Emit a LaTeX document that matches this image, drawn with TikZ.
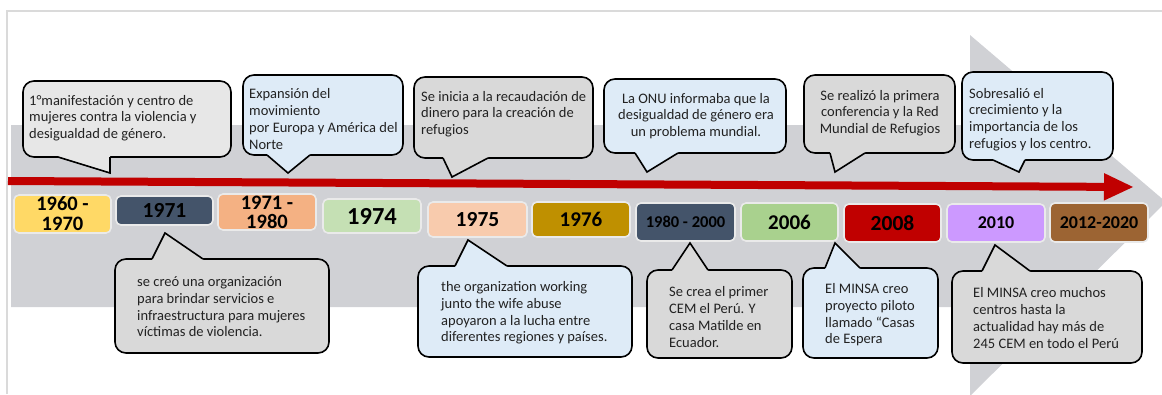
\documentclass[tikz,border=0pt]{standalone}
\usepackage{fontspec}
\setmainfont{Carlito}
\usetikzlibrary{arrows.meta}
\definecolor{bandgray}{HTML}{D0D1D5}
\definecolor{framegray}{HTML}{DADADA}
\definecolor{redline}{HTML}{C00000}
\definecolor{callgray}{HTML}{D9D9D9}
\definecolor{calllight}{HTML}{E7E7E7}
\definecolor{callblue}{HTML}{DEEBF7}
\definecolor{calltext}{HTML}{222222}
\definecolor{yyellow}{HTML}{FFD966}
\definecolor{yslate}{HTML}{44546A}
\definecolor{yorange}{HTML}{F4B183}
\definecolor{ygreenl}{HTML}{C5E0B4}
\definecolor{ypeach}{HTML}{F8CBAD}
\definecolor{ygold}{HTML}{BF9000}
\definecolor{ygreen}{HTML}{A9D18E}
\definecolor{yred}{HTML}{C00000}
\definecolor{ylilac}{HTML}{CC99FF}
\definecolor{ybrown}{HTML}{9C6433}
\definecolor{yborder}{HTML}{EAEAEA}
\newcommand{\calltail}[6]{%
  \fill[#1] (#2,#5) -- (#2,#4) -- #6 -- (#3,#4) -- (#3,#5) -- cycle;
  \draw[tailline] (#2,#4) -- #6 -- (#3,#4);}
\begin{document}
\begin{tikzpicture}[x=1pt,y=-1pt,
  yearbox/.style={rounded corners=5pt, draw=yborder, line width=1.6pt, inner sep=0pt,
    align=center, text=black},
  callout/.style={draw=black, line width=1.6pt, rounded corners=11pt, inner sep=0pt},
  tailline/.style={draw=black, line width=1.6pt, line join=miter},
  ctext/.style={font=\fontsize{14.5}{16.7}\selectfont, text=calltext, inner sep=0pt, align=left, anchor=west},
  ctextc/.style={font=\fontsize{14.5}{16.7}\selectfont, text=calltext, inner sep=0pt, align=center},
  bigarrow/.style={draw=redline, line width=8pt, -{Triangle[length=30pt,width=25pt]}}
]
\useasboundingbox (0,0) rectangle (1162,394);
\clip (0,0) rectangle (1162,394);
% frame
\draw[framegray, line width=2pt] (7,394) -- (7,11) -- (1162,11);
% gray band arrow
\fill[bandgray] (11,125) -- (970,125) -- (970,35) -- (1166,202) -- (970,396) -- (970,307) -- (11,307) -- cycle;
% red arrow
\coordinate (rs) at (8,181);
\coordinate (re) at (1134,187);
\draw[bigarrow] (rs) -- (re);

% year boxes
\node[yearbox, fill=yyellow, minimum width=97pt, minimum height=38pt, font=\bfseries\fontsize{20.5}{20}\selectfont] (y1) at (62.5,214) {1960 -\\1970};
\node[yearbox, fill=yslate, minimum width=97pt, minimum height=29pt, font=\bfseries\fontsize{21.5}{20}\selectfont] (y2) at (164.5,210.5) {1971};
\node[yearbox, fill=yorange, minimum width=98pt, minimum height=36pt, font=\bfseries\fontsize{20.5}{19}\selectfont] (y3) at (267,212) {1971 -\\1980};
\node[yearbox, fill=ygreenl, minimum width=98pt, minimum height=34pt, font=\bfseries\fontsize{24.5}{22}\selectfont] (y4) at (372,216) {1974};
\node[yearbox, fill=ypeach, minimum width=99pt, minimum height=35pt, font=\bfseries\fontsize{21.5}{20}\selectfont] (y5) at (477.5,219.5) {1975};
\node[yearbox, fill=ygold, minimum width=98pt, minimum height=35pt, font=\bfseries\fontsize{21}{20}\selectfont] (y6) at (581,219.5) {1976};
\node[yearbox, fill=yslate, minimum width=99pt, minimum height=38pt, font=\bfseries\fontsize{16.5}{16}\selectfont] (y7) at (685.5,222) {1980 - 2000};
\node[yearbox, fill=ygreen, minimum width=97pt, minimum height=38pt, font=\bfseries\fontsize{21}{20}\selectfont] (y8) at (789.5,222) {2006};
\node[yearbox, fill=yred, minimum width=97pt, minimum height=38pt, font=\bfseries\fontsize{21.5}{20}\selectfont] (y9) at (892.5,223) {2008};
\node[yearbox, fill=ylilac, minimum width=98pt, minimum height=38pt, font=\bfseries\fontsize{18}{18}\selectfont] (y10) at (996,223) {2010};
\node[yearbox, fill=ybrown, minimum width=98pt, minimum height=39pt, font=\bfseries\fontsize{18}{18}\selectfont] (y11) at (1099,222.5) {2012-2020};

% top callouts
\node[callout, fill=calllight, minimum width=208pt, minimum height=76pt] (c1) at (127,119) {};
\calltail{calllight}{58}{110}{157}{154}{(110,173)}
\node[ctext] (t1) at (29,118) {1°manifestación y centro de\\mujeres contra la violencia y\\desigualdad de género.};

\node[callout, fill=callblue, minimum width=160pt, minimum height=80pt] (c2) at (323,115) {};
\calltail{callblue}{267}{310}{155}{152}{(288,173)}
\node[ctext] (t2) at (249,119) {Expansión del\\movimiento\\por Europa y América del\\Norte};

\node[callout, fill=callgray, minimum width=179pt, minimum height=81pt] (c3) at (503.5,117.5) {};
\calltail{callgray}{443}{488}{158}{155}{(452,177)}
\node[ctext] (t3) at (421,114) {Se inicia a la recaudación de\\dinero para la creación de\\refugios};

\node[callout, fill=callblue, minimum width=182pt, minimum height=74pt] (c4) at (695,116) {};
\calltail{callblue}{635}{678}{153}{150}{(647,172)}
\node[ctextc] (t4) at (696,116) {La ONU informaba que la\\desigualdad de género era\\un problema mundial.};

\node[callout, fill=callgray, minimum width=151pt, minimum height=78pt] (c5) at (879.5,114) {};
\calltail{callgray}{830}{865}{153}{150}{(835,172)}
\node[ctextc] (t5) at (880,113) {Se realizó la primera\\conferencia y la Red\\Mundial de Refugios};

\node[callout, fill=callblue, minimum width=151pt, minimum height=88pt] (c6) at (1037.5,116) {};
\calltail{callblue}{993}{1025}{160}{157}{(1019,172)}
\node[ctext] (t6) at (969,119.5) {Sobresalió el\\crecimiento y la\\importancia de los\\refugios y los centro.};

% bottom callouts
\node[callout, fill=callgray, minimum width=214pt, minimum height=94pt] (c7) at (222,306) {};
\calltail{callgray}{152}{203}{259}{262}{(165,233)}
\node[ctext] (t7) at (137,307) {se creó una organización\\para brindar servicios e\\infraestructura para mujeres\\víctimas de violencia.};

\node[callout, fill=callblue, minimum width=214pt, minimum height=91pt] (c8) at (525,311.5) {};
\calltail{callblue}{455}{507}{266}{269}{(468,240)}
\node[ctext] (t8) at (441,313) {the organization working\\junto the wife abuse\\apoyaron a la lucha entre\\diferentes regiones y países.};

\node[callout, fill=callgray, minimum width=145pt, minimum height=88pt] (c9) at (719.5,314) {};
\calltail{callgray}{672}{708}{270}{273}{(690,243)}
\node[ctext] (t9) at (669,317) {Se crea el primer\\CEM el Perú. Y\\casa Matilde en\\Ecuador.};

\node[callout, fill=callblue, minimum width=135pt, minimum height=90pt] (c10) at (870.5,313) {};
\calltail{callblue}{825}{860}{268}{271}{(835,243)}
\node[ctext] (t10) at (825,315) {El MINSA creo\\proyecto piloto\\llamado “Casas\\de Espera};

\node[callout, fill=callgray, minimum width=190pt, minimum height=92pt] (c11) at (1047,317) {};
\calltail{callgray}{982}{1030}{271}{274}{(995,245)}
\node[ctext] (t11) at (973,318) {El MINSA creo muchos\\centros hasta la\\actualidad hay más de\\245 CEM en todo el Perú};
\end{tikzpicture}
\end{document}
